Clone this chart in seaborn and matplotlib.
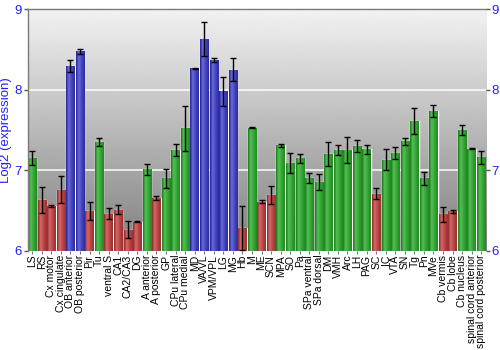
import numpy as np
import pandas as pd
import matplotlib
matplotlib.use("Agg")
import matplotlib.pyplot as plt
import seaborn as sns
from matplotlib.colors import LinearSegmentedColormap

# Brain regions and mean log2 expression with standard errors
regions = [
    "LS", "RS", "Cx motor", "Cx cingulate", "OB anterior", "OB posterior",
    "Pir", "Tu", "ventral S", "CA1", "CA2/CA3", "DG", "A anterior",
    "A posterior", "GP", "CPu lateral", "CPu medial", "MD", "VA/VL",
    "VPM/VPL", "LG", "MG", "Hb", "M", "ME", "SCN", "MPA", "SO", "Pa",
    "SPa ventral", "SPa dorsal", "DM", "VMH", "Arc", "LH", "PAG", "SC",
    "IC", "VTA", "SN", "Tg", "Pn", "MVe", "Cb vermis", "Cb lobe",
    "Cb nucleus", "spinal cord anterior", "spinal cord posterior",
]
expression = [
    7.15, 6.63, 6.55, 6.76, 8.30, 8.48,
    6.49, 7.35, 6.46, 6.51, 6.26, 6.36, 7.01,
    6.65, 6.90, 7.25, 7.52, 8.27, 8.63,
    8.37, 7.98, 8.25, 6.28, 7.53, 6.61, 6.69, 7.31, 7.09, 7.15,
    6.90, 6.85, 7.20, 7.25, 7.25, 7.30, 7.26, 6.71,
    7.13, 7.22, 7.36, 7.61, 6.90, 7.74, 6.45, 6.49,
    7.50, 7.27, 7.16,
]
sem = [
    0.085, 0.16, 0.013, 0.17, 0.073, 0.03,
    0.11, 0.05, 0.065, 0.055, 0.105, 0.01, 0.07,
    0.025, 0.12, 0.07, 0.275, 0.005, 0.215,
    0.025, 0.18, 0.14, 0.275, 0.005, 0.02, 0.11, 0.015, 0.12, 0.055,
    0.06, 0.10, 0.15, 0.06, 0.16, 0.075, 0.055, 0.07,
    0.13, 0.075, 0.045, 0.165, 0.08, 0.075, 0.095, 0.02,
    0.065, 0.01, 0.085,
]
level = [
    "mid", "low", "low", "low", "high", "high",
    "low", "mid", "low", "low", "low", "low", "mid",
    "low", "mid", "mid", "mid", "high", "high",
    "high", "high", "high", "low", "mid", "low", "low", "mid", "mid", "mid",
    "mid", "mid", "mid", "mid", "mid", "mid", "mid", "low",
    "mid", "mid", "mid", "mid", "mid", "mid", "low", "low",
    "mid", "mid", "mid",
]

base_colors = {"high": "#3434b4", "mid": "#2f9c2f", "low": "#b43c3c"}
# shaded cylinder look: dark left edge, bright stripe, darker right side
shades = {
    "high": ["#22228c", "#6a6ad8", "#4848c4", "#2a2aa0"],
    "mid": ["#1c7a1c", "#55c055", "#38a838", "#208a20"],
    "low": ["#8c2a2a", "#d46a6a", "#c04848", "#9a3030"],
}
cmaps = {k: LinearSegmentedColormap.from_list(k, list(zip([0, 0.3, 0.6, 1.0], v)))
         for k, v in shades.items()}

sns.set_style("white")
plt.rcParams["font.family"] = ["Liberation Sans", "DejaVu Sans"]

fig = plt.figure(figsize=(5, 3.5), dpi=100)
ax = fig.add_axes([0.055, 0.284, 0.917, 0.689])

df = pd.DataFrame({"region": regions, "expression": expression,
                   "sem": sem, "level": level})

sns.barplot(data=df, x="region", y="expression", hue="level", order=regions,
            palette=base_colors, dodge=False, width=0.88, errorbar=None,
            legend=False, ax=ax, zorder=2)

ymin, ymax = 6, 9

# vertical gray background gradient
bg = np.linspace(0.50, 0.95, 256)[:, None]
ax.imshow(bg, cmap="gray", vmin=0, vmax=1, extent=(0, 1, 0, 1),
          transform=ax.transAxes, aspect="auto", origin="lower", zorder=0)
ax.patch.set_visible(False)

# shaded fill for each bar
grad = np.linspace(0, 1, 64)[None, :]
for p in list(ax.patches):
    h = p.get_height()
    if not np.isfinite(h) or h <= 0:
        continue
    x0, w = p.get_x(), p.get_width()
    idx = int(round(x0 + w / 2))
    im = ax.imshow(grad, cmap=cmaps[level[idx]], extent=(x0, x0 + w, ymin, h),
                   aspect="auto", zorder=2.5)
    im.set_clip_path(p)

ax.errorbar(np.arange(len(regions)), df["expression"], yerr=df["sem"],
            fmt="none", ecolor="black", elinewidth=1, capsize=2.5,
            capthick=1, zorder=3)

for y in (7, 8):
    ax.axhline(y, color="white", lw=1.2, alpha=0.9, zorder=1)

ax.set_xlim(-0.5, len(regions) - 0.5)
ax.set_ylim(ymin, ymax)
ax.set_yticks([6, 7, 8, 9])

for side in ("top", "left"):
    ax.spines[side].set_visible(True)
    ax.spines[side].set_color("#7a7a7a")
    ax.spines[side].set_linewidth(1)
ax.spines["right"].set_visible(False)
ax.spines["bottom"].set_visible(False)

ax.tick_params(axis="y", left=True, right=True, labelleft=True, labelright=True,
               direction="out", length=3, width=1, color="#555555",
               labelcolor="#2020ff", labelsize=9.5, pad=1)
ax.tick_params(axis="x", bottom=True, direction="out", length=2, width=0.8,
               color="#777777", labelsize=7.5, labelcolor="black", pad=1)
plt.setp(ax.get_xticklabels(), rotation=90, ha="center", va="top")

ax.set_xlabel("")
ax.set_ylabel("Log2 (expression)", color="#2020ff", fontsize=9.5, labelpad=2)

fig.savefig("out.png", dpi=100)
